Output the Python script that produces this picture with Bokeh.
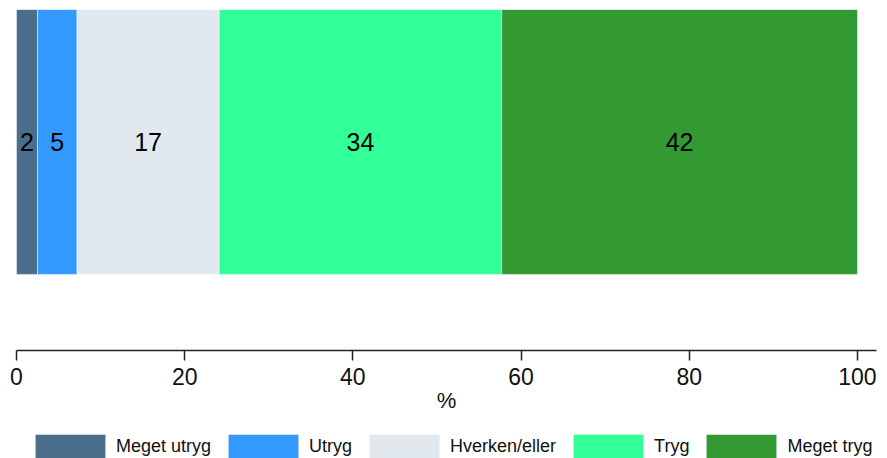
from bokeh.plotting import figure
from bokeh.models import ColumnDataSource, Range1d, Legend, LegendItem, FixedTicker
from bokeh.embed import file_html
from bokeh.resources import INLINE
from bokeh.core.properties import value
import numpy as np

# ---- data ----
categories = ["Meget utryg", "Utryg", "Hverken/eller", "Tryg", "Meget tryg"]
shares = [2.5, 4.7, 16.9, 33.6, 42.3]
labels = ["2", "5", "17", "34", "42"]
colors = ["#4a6e8b", "#3399ff", "#e1e9ef", "#33ff99", "#339933"]
ticks = [0, 20, 40, 60, 80, 100]
axis_title = "%"

FONT = "Liberation Sans"
# layout (vertical positions in a 0..1 frame)
BAR_Y = 0.705
BAR_H = 0.59
AXIS_Y = 0.2405
X_MIN, X_MAX = -1.90, 103.57
AXIS_END = 102.26

ends = np.cumsum(shares)
starts = ends - np.array(shares)
mids = (starts + ends) / 2

src = ColumnDataSource(dict(
    cat=categories, left=starts, right=ends, mid=mids,
    label=labels, color=colors, y=[BAR_Y] * len(categories),
))

p = figure(width=887, height=458, output_backend="svg", toolbar_location=None,
           x_range=Range1d(X_MIN, X_MAX), y_range=Range1d(0, 1),
           min_border_left=0, min_border_right=0, min_border_top=9, min_border_bottom=0)

r = p.hbar(y="y", left="left", right="right", height=BAR_H, fill_color="color",
           line_color="white", line_alpha=0.6, line_width=0.8, source=src)

p.text(x="mid", y="y", text="label", source=src, text_align="center",
       text_baseline="middle", text_font=value(FONT), text_font_size="25px",
       text_color="black")

p.yaxis.visible = False
p.xgrid.visible = False
p.ygrid.visible = False
p.outline_line_color = None

ax = p.xaxis[0]
ax.fixed_location = AXIS_Y
ax.bounds = (0, AXIS_END)
ax.ticker = FixedTicker(ticks=ticks)
ax.axis_label = axis_title
ax.axis_label_text_font = FONT
ax.axis_label_text_font_style = "normal"
ax.axis_label_text_font_size = "22px"
ax.axis_label_standoff = 0
ax.major_label_text_font = FONT
ax.major_label_text_font_size = "23px"
ax.major_label_standoff = 7
ax.major_tick_out = 10
ax.major_tick_in = 0
ax.minor_tick_out = 0
ax.minor_tick_in = 0
ax.axis_line_width = 1.5
ax.major_tick_line_width = 1.5
ax.axis_line_color = "#222222"
ax.major_tick_line_color = "#222222"
ax.major_label_text_color = "#111111"
ax.axis_label_text_color = "#111111"

items = [LegendItem(label=c, renderers=[r], index=i) for i, c in enumerate(categories)]
legend = Legend(items=items, orientation="horizontal", location=(26, -3),
                glyph_width=88, glyph_height=30, label_standoff=2, spacing=8,
                margin=0, padding=0, border_line_alpha=0, background_fill_alpha=0,
                label_text_font=FONT, label_text_font_size="18px",
                label_text_color="#111111")
p.add_layout(legend)

open("out.html", "w").write(file_html(p, INLINE))
